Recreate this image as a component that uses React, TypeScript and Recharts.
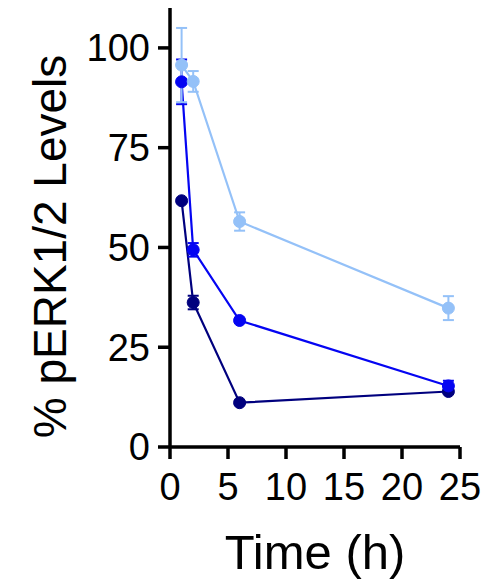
import React from 'react';
import { LineChart, Line, XAxis, YAxis, ErrorBar, Label } from 'recharts';

// Time points (h)
const hours = [1, 2, 6, 24];

// Mean % pERK1/2 and SEM for each treatment
const lightMeans = [95.7, 91.6, 56.5, 34.8];
const lightErr = [9.3, 2.6, 2.3, 3.0];

const blueMeans = [91.5, 49.4, 31.7, 15.3];
const blueErr = [5.6, 1.7, 0.4, 1.3];

const navyMeans = [61.7, 36.2, 11.1, 13.9];
const navyErr = [0.4, 1.7, 0.4, 0.4];

const xTicks = [0, 5, 10, 15, 20, 25];
const yTicks = [0, 25, 50, 75, 100];

const build = (means: number[], errs: number[]) =>
  hours.map((t, i) => ({ t, v: means[i], e: errs[i] }));

const lightData = build(lightMeans, lightErr);
const blueData = build(blueMeans, blueErr);
const navyData = build(navyMeans, navyErr);

const FONT = '"Liberation Sans", Arial, sans-serif';

const axisStyle = { stroke: '#000', strokeWidth: 3.5 };
const tickStyle = { fill: '#000', fontSize: 38, fontFamily: FONT };

const XTitle = (props: any) => {
  const { x, y, width } = props.viewBox;
  return (
    <text x={x + width / 2} y={y + 122} textAnchor="middle" fontSize={49} fontFamily={FONT} fill="#000">
      Time (h)
    </text>
  );
};

const YTitle = (props: any) => {
  const { y, height } = props.viewBox;
  const cx = 66;
  const cy = y + height / 2 + 19;
  return (
    <text
      x={cx}
      y={cy}
      transform={`rotate(-90, ${cx}, ${cy})`}
      textAnchor="middle"
      fontSize={46}
      fontFamily={FONT}
      fill="#000"
    >
      % pERK1/2 Levels
    </text>
  );
};

const series = [
  { name: 'navy', data: navyData, color: '#00007E' },
  { name: 'blue', data: blueData, color: '#0505F2' },
  { name: 'light', data: lightData, color: '#94C1F8' },
];

export default function App() {
  return (
    <div style={{ position: 'absolute', left: 0, top: 0, width: 500, height: 581, background: '#fff' }}>
      <LineChart width={500} height={581} margin={{ top: 8, right: 40, bottom: 0, left: 0 }}>
        <XAxis
          type="number"
          dataKey="t"
          domain={[0, 25]}
          ticks={xTicks}
          allowDuplicatedCategory={false}
          height={134}
          tickSize={12}
          tickMargin={14}
          axisLine={axisStyle}
          tickLine={axisStyle}
          tick={tickStyle}
        >
          <Label content={XTitle} />
        </XAxis>
        <YAxis
          type="number"
          domain={[0, 110]}
          ticks={yTicks}
          width={170}
          tickSize={12}
          tickMargin={8}
          axisLine={axisStyle}
          tickLine={axisStyle}
          tick={tickStyle}
        >
          <Label content={YTitle} />
        </YAxis>
        {series.map((s) => (
          <Line
            key={s.name}
            data={s.data}
            dataKey="v"
            stroke={s.color}
            strokeWidth={2.2}
            dot={{ r: 6, fill: s.color, stroke: s.color, strokeWidth: 1 }}
            activeDot={false}
            isAnimationActive={false}
          >
            <ErrorBar dataKey="e" width={5.5} strokeWidth={2} stroke={s.color} direction="y" />
          </Line>
        ))}
      </LineChart>
    </div>
  );
}
